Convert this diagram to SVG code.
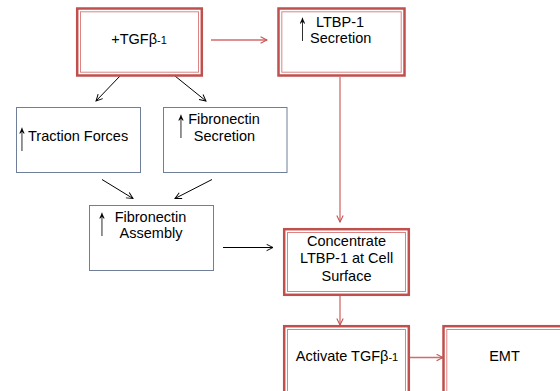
<svg xmlns="http://www.w3.org/2000/svg" width="560" height="391" viewBox="0 0 560 391">
<defs>
<style>
text{font-family:"Liberation Sans",Arial,sans-serif;font-size:14.5px;fill:#000;}
.c{text-anchor:middle;}
.sub{font-size:11px;}
.up{font-family:"Noto Sans",sans-serif;font-size:20px;text-anchor:middle;filter:url(#gray);}
.ro{fill:#fff;stroke:#C0504D;stroke-width:2.5;}
.ri{fill:none;stroke:#D98585;stroke-width:1;}
.bb{fill:#fff;stroke:#6F7F99;stroke-width:1;}
.ka{stroke:#000;stroke-width:1;fill:none;marker-end:url(#ak);}
.ra{stroke:#D46A6A;stroke-width:1.3;fill:none;marker-end:url(#ar);}
</style>
<filter id="gray" x="-50%" y="-50%" width="200%" height="200%">
<feColorMatrix type="saturate" values="0"/>
</filter>
<marker id="ak" viewBox="0 0 10 10" refX="9" refY="5" markerWidth="8" markerHeight="8" markerUnits="userSpaceOnUse" orient="auto">
<path d="M1,1 L9,5 L1,9" fill="none" stroke="#000" stroke-width="1.2"/>
</marker>
<marker id="ar" viewBox="0 0 10 10" refX="9" refY="5" markerWidth="8" markerHeight="8" markerUnits="userSpaceOnUse" orient="auto">
<path d="M1,1 L9,5 L1,9" fill="none" stroke="#C0504D" stroke-width="1.3"/>
</marker>
</defs>
<rect width="560" height="391" fill="#fff"/>
<g id="connectors">
<line class="ra" x1="211" y1="40" x2="267" y2="40"/>
<line class="ka" x1="120" y1="76" x2="96" y2="101"/>
<line class="ka" x1="175" y1="76" x2="206" y2="101"/>
<line class="ka" x1="102" y1="179.5" x2="133" y2="198.5"/>
<line class="ka" x1="212" y1="179.5" x2="175" y2="198.5"/>
<line class="ka" x1="223" y1="247.5" x2="273" y2="247.5"/>
<line class="ra" x1="340" y1="77" x2="340" y2="222"/>
<line class="ra" x1="340" y1="296" x2="340" y2="325"/>
<line class="ra" x1="407" y1="357.5" x2="443" y2="357.5"/>
</g>
<g id="tgf">
<rect class="ro" x="77.2" y="8.5" width="124.6" height="67"/>
<rect class="ri" x="80.5" y="11.8" width="118" height="60.4"/>
<text class="c" x="139" y="43.5">+TGFβ<tspan class="sub">-1</tspan></text>
</g>
<g id="ltbp">
<rect class="ro" x="278.5" y="8.5" width="126" height="67"/>
<rect class="ri" x="281.8" y="11.8" width="119.4" height="60.4"/>
<text class="up" transform="translate(302.5,40) scale(1,2)">↑</text>
<text x="316" y="27">LTBP-1</text>
<text x="310" y="42.5">Secretion</text>
</g>
<g id="traction">
<rect class="bb" x="16.5" y="107.5" width="124" height="65"/>
<text class="up" transform="translate(22,150) scale(1,2)">↑</text>
<text x="28" y="141">Traction Forces</text>
</g>
<g id="fnsec">
<rect class="bb" x="163.5" y="107.5" width="123.5" height="65"/>
<text class="up" transform="translate(181,137) scale(1,2)">↑</text>
<text class="c" x="224" y="124">Fibronectin</text>
<text class="c" x="224.5" y="141">Secretion</text>
</g>
<g id="fnasm">
<rect class="bb" x="89.5" y="205.5" width="124" height="65"/>
<text class="up" transform="translate(102,235) scale(1,2)">↑</text>
<text class="c" x="150.5" y="221.5">Fibronectin</text>
<text class="c" x="151" y="238">Assembly</text>
</g>
<g id="concentrate">
<rect class="ro" x="284.2" y="229.2" width="124.6" height="65.6"/>
<rect class="ri" x="287.5" y="232.5" width="118" height="59"/>
<text class="c" x="346.5" y="245.5">Concentrate</text>
<text class="c" x="346.5" y="263">LTBP-1 at Cell</text>
<text class="c" x="346.5" y="280.5">Surface</text>
</g>
<g id="activate">
<rect class="ro" x="284.2" y="326.2" width="124.6" height="80"/>
<rect class="ri" x="287.5" y="329.5" width="118" height="80"/>
<text class="c" x="347" y="361">Activate TGFβ<tspan class="sub">-1</tspan></text>
</g>
<g id="emt">
<rect class="ro" x="443.5" y="326.2" width="130" height="80"/>
<rect class="ri" x="446.8" y="329.5" width="130" height="80"/>
<text class="c" x="504.5" y="361">EMT</text>
</g>
</svg>
